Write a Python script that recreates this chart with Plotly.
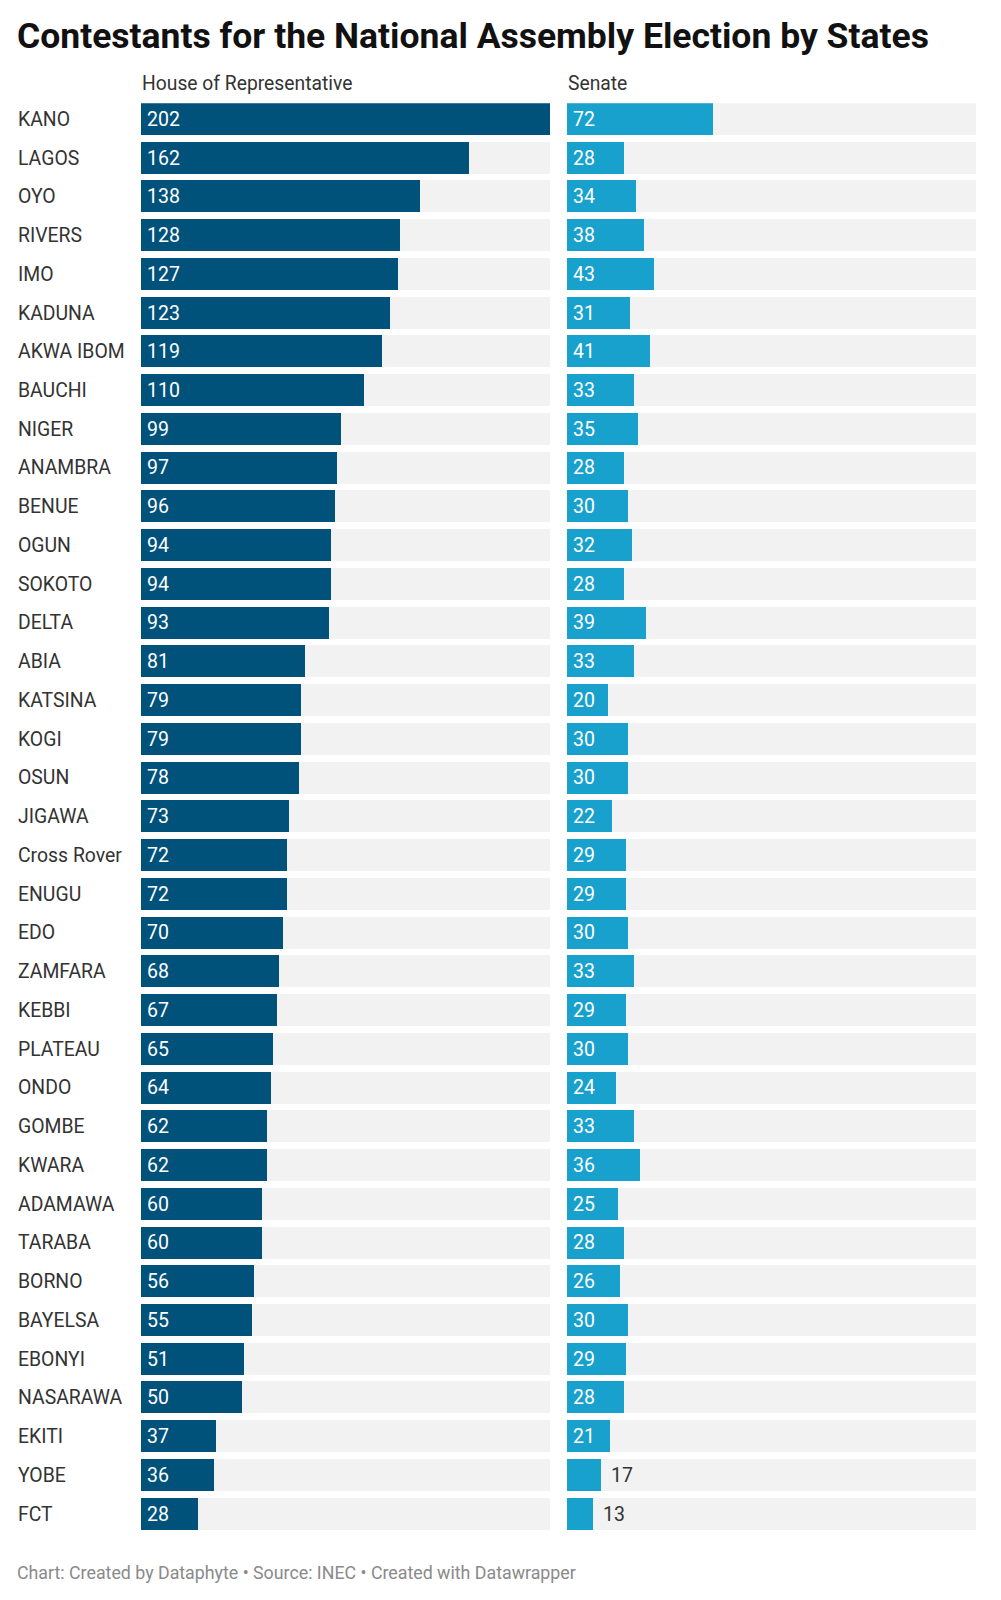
import plotly.graph_objects as go

states = ["KANO", "LAGOS", "OYO", "RIVERS", "IMO", "KADUNA", "AKWA IBOM", "BAUCHI", "NIGER",
          "ANAMBRA", "BENUE", "OGUN", "SOKOTO", "DELTA", "ABIA", "KATSINA", "KOGI", "OSUN",
          "JIGAWA", "Cross Rover", "ENUGU", "EDO", "ZAMFARA", "KEBBI", "PLATEAU", "ONDO",
          "GOMBE", "KWARA", "ADAMAWA", "TARABA", "BORNO", "BAYELSA", "EBONYI", "NASARAWA",
          "EKITI", "YOBE", "FCT"]
house = [202, 162, 138, 128, 127, 123, 119, 110, 99, 97, 96, 94, 94, 93, 81, 79, 79, 78, 73,
         72, 72, 70, 68, 67, 65, 64, 62, 62, 60, 60, 56, 55, 51, 50, 37, 36, 28]
senate = [72, 28, 34, 38, 43, 31, 41, 33, 35, 28, 30, 32, 28, 39, 33, 20, 30, 30, 22, 29, 29,
          30, 33, 29, 30, 24, 33, 36, 25, 28, 26, 30, 29, 28, 21, 17, 13]
panel_titles = ["House of Representative", "Senate"]
title = "Contestants for the National Assembly Election by States"
footer = "Chart: Created by Dataphyte • Source: INEC • Created with Datawrapper"

W, H = 1001, 1600
FONT = "Roboto"
HOUSE_COLOR = "#01527b"
SENATE_COLOR = "#18a1cd"
BG = "#f2f2f2"

n = len(states)
idx = list(range(n))
vmax = max(max(house), max(senate))
bw = 0.826

# pixel layout
top_px, bot_px = 103.3, 1530.0
x1 = (141 / W, 550 / W)
x2 = (567 / W, 976 / W)
ydom = (1 - bot_px / H, 1 - top_px / H)

fig = go.Figure()
for series, color, xa, ya in [(house, HOUSE_COLOR, "x", "y"), (senate, SENATE_COLOR, "x2", "y2")]:
    fig.add_trace(go.Bar(x=[vmax] * n, y=idx, orientation="h", width=bw,
                         marker=dict(color=BG, line=dict(width=0)),
                         hoverinfo="skip", xaxis=xa, yaxis=ya, showlegend=False))
    fig.add_trace(go.Bar(x=series, y=idx, orientation="h", width=bw,
                         marker=dict(color=color, line=dict(width=0)),
                         xaxis=xa, yaxis=ya, showlegend=False))

ax_common = dict(showgrid=False, zeroline=False, showticklabels=False, showline=False,
                 fixedrange=True)
half = bw / 2
fig.update_layout(
    width=W, height=H, margin=dict(l=0, r=0, t=0, b=0),
    paper_bgcolor="white", plot_bgcolor="white",
    barmode="overlay", bargap=0,
    font=dict(family=FONT, color="#333333"),
    xaxis=dict(domain=x1, range=[0, vmax], anchor="y", **ax_common),
    xaxis2=dict(domain=x2, range=[0, vmax], anchor="y2", **ax_common),
    yaxis=dict(domain=ydom, range=[n - 1 + half, -half], anchor="x", **ax_common),
    yaxis2=dict(domain=ydom, range=[n - 1 + half, -half], anchor="x2", **ax_common),
)

ann = []
# title
ann.append(dict(text=f"<b>{title}</b>", xref="paper", yref="paper", x=15 / W, y=1 - 36 / H,
                xanchor="left", yanchor="middle", showarrow=False,
                font=dict(size=35.5, color="#111111", family=FONT)))
# panel titles
for t, dom in zip(panel_titles, [x1, x2]):
    ann.append(dict(text=t, xref="paper", yref="paper", x=dom[0] - 1.5 / W, y=1 - 84 / H,
                    xanchor="left", yanchor="middle", showarrow=False,
                    font=dict(size=19.3, color="#333333", family=FONT)))
# state labels
for i, s in enumerate(states):
    ann.append(dict(text=s, xref="paper", yref="y", x=16 / W, y=i,
                    xanchor="left", yanchor="middle", showarrow=False,
                    font=dict(size=19.4, color="#333333", family=FONT)))
# value labels
for series, xr, yr in [(house, "x", "y"), (senate, "x2", "y2")]:
    for i, v in enumerate(series):
        inside = v >= 20
        ann.append(dict(text=str(v), xref=xr, yref=yr,
                        x=0 if inside else v, y=i,
                        xanchor="left", yanchor="middle", showarrow=False,
                        xshift=4 if inside else 8,
                        font=dict(size=19.5, color="white" if inside else "#333333",
                                  family=FONT)))
# footer
ann.append(dict(text=footer, xref="paper", yref="paper", x=15 / W, y=1 - 1572 / H,
                xanchor="left", yanchor="middle", showarrow=False,
                font=dict(size=17.8, color="#8a8a8a", family=FONT)))
fig.update_layout(annotations=ann)

fig.write_html("out.html", config={"displayModeBar": False},
               post_script="document.body.style.margin='0';")
